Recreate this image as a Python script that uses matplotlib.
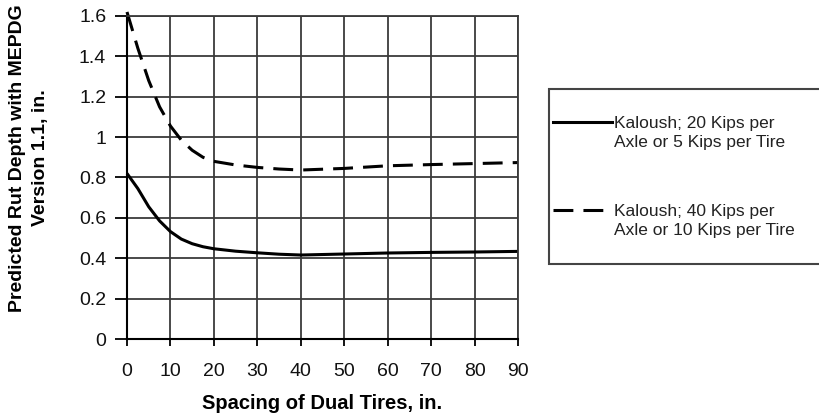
import matplotlib
matplotlib.use("Agg")
import matplotlib.pyplot as plt
from matplotlib.lines import Line2D
from matplotlib.patches import Rectangle

plt.rcParams['font.family'] = ['Liberation Sans', 'DejaVu Sans']

# Spacing of dual tires (in.)
spacing = [0, 2.5, 5, 7.5, 10, 12.5, 15, 17.5, 20, 25, 30, 35, 40, 50, 60, 70, 80, 90]
# Predicted rut depth (in.), 20 kips per axle
rut_20k = [0.82, 0.745, 0.655, 0.585, 0.532, 0.495, 0.472, 0.457, 0.447, 0.435,
           0.427, 0.42, 0.416, 0.421, 0.426, 0.429, 0.431, 0.434]
# Predicted rut depth (in.), 40 kips per axle
rut_40k = [1.62, 1.44, 1.28, 1.15, 1.055, 0.985, 0.935, 0.9, 0.88, 0.862,
           0.85, 0.842, 0.837, 0.845, 0.858, 0.864, 0.869, 0.874]

x_ticks = [0, 10, 20, 30, 40, 50, 60, 70, 80, 90]
y_ticks = [0, 0.2, 0.4, 0.6, 0.8, 1.0, 1.2, 1.4, 1.6]
y_tick_labels = ['0', '0.2', '0.4', '0.6', '0.8', '1', '1.2', '1.4', '1.6']

label_20k = "Kaloush; 20 Kips per\nAxle or 5 Kips per Tire"
label_40k = "Kaloush; 40 Kips per\nAxle or 10 Kips per Tire"

W, H = 819, 419
fig = plt.figure(figsize=(W / 100, H / 100), dpi=100)
ax = fig.add_axes([127 / W, 1 - 339 / H, (518 - 127) / W, (339 - 16) / H])

grid_color = '#3a3a3a'
ax.set_xlim(0, 90)
ax.set_ylim(0, 1.6)
ax.set_xticks(x_ticks)
ax.set_yticks(y_ticks)
ax.set_yticklabels(y_tick_labels)
ax.grid(True, color=grid_color, linewidth=1.3)
ax.set_axisbelow(True)
for side in ['top', 'right']:
    ax.spines[side].set_color(grid_color)
    ax.spines[side].set_linewidth(1.3)
for side in ['left', 'bottom']:
    ax.spines[side].set_color('black')
    ax.spines[side].set_linewidth(1.5)
ax.tick_params(axis='both', direction='out', width=1.3,
               color='black', labelsize=14, labelcolor='#111111')
ax.tick_params(axis='x', length=5, pad=12)
ax.tick_params(axis='y', length=8.5, pad=6.5)

ax.plot(spacing, rut_20k, color='black', linewidth=2.2, clip_on=False,
        solid_capstyle='butt', solid_joinstyle='round')
ax.plot(spacing, rut_40k, color='black', linewidth=2.2, clip_on=False,
        dashes=(6.5, 3.3))

ax.set_xlabel("Spacing of Dual Tires, in.", fontsize=14.5, fontweight='bold',
              labelpad=10)
fig.text(29 / W, 1 - 158 / H, "Predicted Rut Depth with MEPDG\nVersion 1.1, in.",
         rotation=90, ha='center', va='center', fontsize=14,
         fontweight='bold', multialignment='center', linespacing=1.4)

# Legend box drawn in figure pixels
def fx(px):
    return px / W

def fy(py):
    return 1 - py / H

fig.add_artist(Rectangle((fx(549), fy(264)), fx(840) - fx(549), fy(89) - fy(264),
                         transform=fig.transFigure, facecolor='white',
                         edgecolor='#444444', linewidth=1.5, clip_on=False))
fig.add_artist(Line2D([fx(553), fx(612)], [fy(122), fy(122)],
                      transform=fig.transFigure, color='black', linewidth=2.2))
fig.add_artist(Line2D([fx(553), fx(612)], [fy(210), fy(210)],
                      transform=fig.transFigure, color='black', linewidth=2.2,
                      dashes=(6.5, 3.3)))
fig.text(fx(614), fy(133), label_20k, ha='left', va='center', fontsize=12.5,
         color='#222222', linespacing=1.3)
fig.text(fx(614), fy(221), label_40k, ha='left', va='center', fontsize=12.5,
         color='#222222', linespacing=1.3)

fig.savefig("out.png", dpi=100)
